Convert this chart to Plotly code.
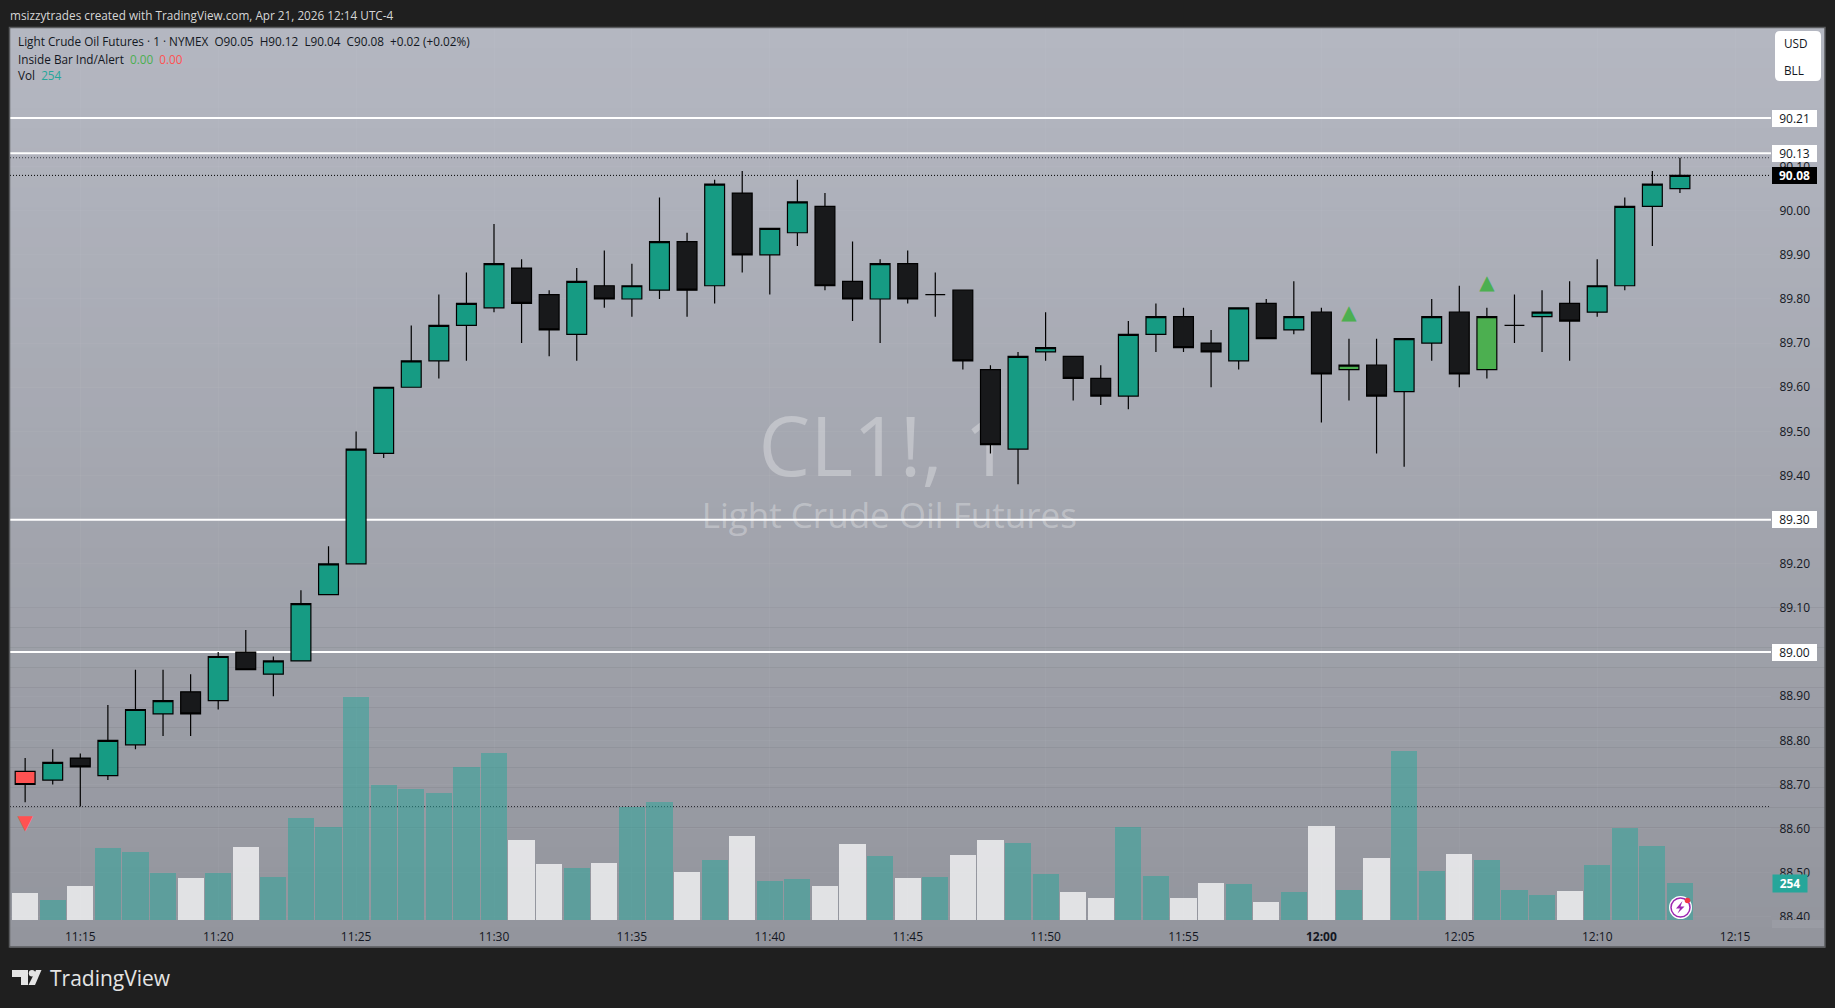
import pandas as pd
import plotly.graph_objects as go

W = 1835
H = 1008

# one minute bars, 11:13 -> 12:13
times = pd.date_range("2026-04-21 11:13", "2026-04-21 12:13", freq="1min")

opens = [88.73, 88.71, 88.76, 88.72, 88.79, 88.86, 88.91, 88.89, 89.00, 88.95, 88.98, 89.13,
         89.20, 89.45, 89.60, 89.66, 89.74, 89.78, 89.87, 89.81, 89.72, 89.83, 89.80, 89.82,
         89.93, 89.83, 90.04, 89.90, 89.95, 90.01, 89.84, 89.80, 89.88, 89.81, 89.82, 89.64,
         89.46, 89.68, 89.67, 89.62, 89.58, 89.72, 89.76, 89.70, 89.66, 89.79, 89.73, 89.77,
         89.64, 89.65, 89.59, 89.70, 89.77, 89.64, 89.74, 89.76, 89.79, 89.77, 89.83, 90.01, 90.05]
highs = [88.76, 88.78, 88.77, 88.88, 88.96, 88.96, 88.95, 89.00, 89.05, 88.99, 89.14, 89.24,
         89.50, 89.60, 89.74, 89.81, 89.86, 89.97, 89.89, 89.82, 89.87, 89.91, 89.88, 90.03,
         89.95, 90.07, 90.09, 89.96, 90.07, 90.04, 89.93, 89.89, 89.91, 89.86, 89.82, 89.65,
         89.68, 89.77, 89.67, 89.65, 89.75, 89.79, 89.78, 89.73, 89.78, 89.80, 89.84, 89.78,
         89.71, 89.71, 89.71, 89.80, 89.83, 89.78, 89.81, 89.82, 89.84, 89.89, 90.03, 90.09, 90.12]
lows = [88.66, 88.70, 88.65, 88.71, 88.78, 88.81, 88.81, 88.87, 88.96, 88.90, 88.98, 89.13,
        89.20, 89.44, 89.60, 89.62, 89.66, 89.77, 89.70, 89.67, 89.66, 89.78, 89.76, 89.80,
        89.76, 89.79, 89.86, 89.81, 89.92, 89.82, 89.75, 89.70, 89.79, 89.76, 89.64, 89.45,
        89.38, 89.66, 89.57, 89.56, 89.55, 89.68, 89.68, 89.60, 89.64, 89.71, 89.72, 89.52,
        89.57, 89.45, 89.42, 89.66, 89.60, 89.62, 89.70, 89.68, 89.66, 89.76, 89.82, 89.92, 90.04]
closes = [88.70, 88.75, 88.74, 88.80, 88.87, 88.89, 88.86, 88.99, 88.96, 88.98, 89.11, 89.20,
          89.46, 89.60, 89.66, 89.74, 89.79, 89.88, 89.79, 89.73, 89.84, 89.80, 89.83, 89.93,
          89.82, 90.06, 89.90, 89.96, 90.02, 89.83, 89.80, 89.88, 89.80, 89.81, 89.66, 89.47,
          89.67, 89.69, 89.62, 89.58, 89.72, 89.76, 89.69, 89.68, 89.78, 89.71, 89.76, 89.63,
          89.65, 89.58, 89.71, 89.76, 89.63, 89.76, 89.74, 89.77, 89.75, 89.83, 90.01, 90.06, 90.08]
volumes = [185, 137, 233, 494, 467, 323, 288, 323, 501, 295, 700, 638, 1531, 927, 899, 872,
           1050, 1146, 549, 384, 357, 391, 776, 810, 330, 412, 577, 268, 281, 233, 522, 439,
           288, 295, 446, 549, 529, 316, 192, 151, 638, 302, 151, 254, 247, 124, 192, 645,
           206, 426, 1160, 336, 453, 412, 206, 172, 199, 378, 632, 508, 254]

# inside bar indicator
red_bars = ["2026-04-21 11:13"]
red_marks = [88.61]
green_bars = ["2026-04-21 12:01", "2026-04-21 12:06"]
green_marks = [89.765, 89.835]

price_ticks = [88.4, 88.5, 88.6, 88.7, 88.8, 88.9, 89.0, 89.1, 89.2, 89.3, 89.4, 89.5,
               89.6, 89.7, 89.8, 89.9, 90.0, 90.1]
white_levels = [90.21, 90.13, 89.30, 89.00]
dotted_levels = [90.12, 90.08, 88.65]
last_close = 90.08
last_volume = 254

time_ticks = pd.date_range("2026-04-21 11:15", "2026-04-21 12:15", freq="5min")
time_labels = ["<b>12:00</b>" if t.strftime("%H:%M") == "12:00" else t.strftime("%H:%M") for t in time_ticks]

TEAL = "#169b83"
BLACK = "#18191b"
RED = "#ff5252"
GREEN = "#4caf50"
FONT = "Open Sans"


def px(x):
    return x / W


def py(y):
    return 1 - y / H


# pane pixel box
LEFT, RIGHT, TOP, BOTTOM = 10, 1771, 28, 920
PX_PER_MIN = 27.58
PX_PER_PRICE = 441.4
x_start = pd.Timestamp("2026-04-21 11:15") + pd.Timedelta(minutes=(LEFT - 80.3) / PX_PER_MIN)
x_end = pd.Timestamp("2026-04-21 11:15") + pd.Timedelta(minutes=(RIGHT - 80.3) / PX_PER_MIN)
y_top = 90 + (210.7 - TOP) / PX_PER_PRICE
y_bottom = 90 - (BOTTOM - 210.7) / PX_PER_PRICE


def candles(idx, up, down):
    return go.Candlestick(
        x=[times[i] for i in idx],
        open=[opens[i] for i in idx],
        high=[highs[i] for i in idx],
        low=[lows[i] for i in idx],
        close=[closes[i] for i in idx],
        yaxis="y3",
        whiskerwidth=0,
        increasing=dict(fillcolor=up, line=dict(color="#000000", width=1.2)),
        decreasing=dict(fillcolor=down, line=dict(color="#000000", width=1.2)),
        hoverinfo="skip",
        showlegend=False,
    )


fig = go.Figure()

# watermark sits in the main subplot so the candles cover it
fig.add_trace(go.Scatter(x=[pd.Timestamp("2026-04-21 11:44:10")], y=[89.445], mode="text", text=["CL1!, 1"],
                         textfont=dict(family=FONT, size=82, color="rgba(255,255,255,0.3)"),
                         hoverinfo="skip", showlegend=False))
fig.add_trace(go.Scatter(x=[pd.Timestamp("2026-04-21 11:44:20")], y=[89.30], mode="text",
                         text=["Light Crude Oil Futures"],
                         textfont=dict(family=FONT, size=35, color="rgba(255,255,255,0.3)"),
                         hoverinfo="skip", showlegend=False))

vol_colors = ["rgba(38,166,154,0.5)" if c >= o else "rgba(255,255,255,0.72)" for o, c in zip(opens, closes)]
fig.add_trace(go.Bar(x=times, y=volumes, yaxis="y2", marker=dict(color=vol_colors, line=dict(width=0)),
                     width=57000, hoverinfo="skip", showlegend=False))

special = [0, 48, 53]
fig.add_trace(candles([i for i in range(len(times)) if i not in special], TEAL, BLACK))
fig.add_trace(candles([0], RED, RED))
fig.add_trace(candles([48, 53], GREEN, GREEN))

# glyphs because plotly's triangle markers come out too flat
fig.add_trace(go.Scatter(x=green_bars, y=green_marks, yaxis="y3", mode="text", text=["▲"] * len(green_bars),
                         textfont=dict(family="DejaVu Sans", size=20, color=GREEN),
                         hoverinfo="skip", showlegend=False))
fig.add_trace(go.Scatter(x=red_bars, y=red_marks, yaxis="y3", mode="text", text=["▼"] * len(red_bars),
                         textfont=dict(family="DejaVu Sans", size=20, color=RED),
                         hoverinfo="skip", showlegend=False))

shapes = []
# background gradient
n_strips = 46
for i in range(n_strips):
    f = i / (n_strips - 1)
    r = round(180 + (147 - 180) * f)
    g = round(183 + (149 - 183) * f)
    b = round(193 + (157 - 193) * f)
    y0 = TOP + (947 - TOP) * i / n_strips
    y1 = TOP + (947 - TOP) * (i + 1) / n_strips
    shapes.append(dict(type="rect", xref="paper", yref="paper", layer="below", x0=px(10), x1=px(1825),
                       y0=py(y0), y1=py(y1 + 0.5), fillcolor=f"rgb({r},{g},{b})", line=dict(width=0)))

for level in white_levels:
    shapes.append(dict(type="line", xref="paper", yref="y", layer="below", x0=px(LEFT), x1=px(RIGHT),
                       y0=level, y1=level, line=dict(color="#ffffff", width=2)))
for level, col in zip(dotted_levels, ["#3a3d45", "#000000", "#22242a"]):
    shapes.append(dict(type="line", xref="paper", yref="y", layer="below", x0=px(LEFT), x1=px(RIGHT),
                       y0=level, y1=level, line=dict(color=col, width=1, dash="1px,2px")))

# frame and the bit that clips the lowest price label
shapes.append(dict(type="rect", xref="paper", yref="paper", layer="above", x0=px(1772), x1=px(1824),
                   y0=py(920), y1=py(928), fillcolor="#9a9ca4", line=dict(width=0)))
shapes.append(dict(type="rect", xref="paper", yref="paper", layer="above", x0=px(9.5), x1=px(1825),
                   y0=py(27.5), y1=py(947), line=dict(color="#5a5b5e", width=1.5)))

# USD / BLL box
x0, x1, y0, y1, rad = px(1775), px(1821), py(31), py(81), 5
rx, ry = rad / W, rad / H
shapes.append(dict(type="path", xref="paper", yref="paper", layer="above", fillcolor="#ffffff",
                   line=dict(width=0),
                   path=f"M {x0+rx},{y0} L {x1-rx},{y0} Q {x1},{y0} {x1},{y0-ry} L {x1},{y1+ry} Q {x1},{y1} {x1-rx},{y1} "
                        f"L {x0+rx},{y1} Q {x0},{y1} {x0},{y1+ry} L {x0},{y0-ry} Q {x0},{y0} {x0+rx},{y0} Z"))


def circle(cx, cy, r, fill, line=None, width=0):
    return dict(type="circle", xref="paper", yref="paper", layer="above", x0=px(cx - r), x1=px(cx + r),
                y0=py(cy - r), y1=py(cy + r), fillcolor=fill, line=dict(color=line, width=width))


def poly(points, fill):
    path = "M " + " L ".join(f"{px(a)},{py(b)}" for a, b in points) + " Z"
    return dict(type="path", xref="paper", yref="paper", layer="above", path=path, fillcolor=fill,
                line=dict(width=0))


# lightning badge
shapes.append(circle(1680.5, 907.5, 11.5, "#ffffff"))
shapes.append(circle(1680.5, 907.5, 9.5, "#ffffff", "#9c27b0", 1.5))
shapes.append(poly([(1682.5, 901), (1676, 908.5), (1680, 908.5), (1677.5, 913.5), (1684.5, 906.5), (1680.5, 906.5)], "#9c27b0"))
shapes.append(circle(1687.5, 900.5, 2.8, "#f23645"))

# TradingView mark
LOGO = "#e4e4e4"
shapes.append(poly([(12, 970), (28, 970), (28, 985), (21, 985), (21, 977), (12, 977)], LOGO))
shapes.append(circle(32, 973.2, 3.2, LOGO))
shapes.append(poly([(36, 970), (41.5, 970), (35, 985), (28.5, 985)], LOGO))

annotations = []


def label(x, y, text, size=11.75, color="#131722", anchor="left", **kw):
    annotations.append(dict(xref="paper", yref="paper", x=px(x), y=py(y), text=text, showarrow=False,
                            xanchor=anchor, yanchor="middle", align="left",
                            font=dict(family=FONT, size=size, color=color), **kw))


def price_tag(y_value, text, bg, color, bold=False, width=43):
    annotations.append(dict(xref="paper", yref="y", x=px(1772), y=y_value, text=f"<b>{text}</b>" if bold else text,
                            showarrow=False, xanchor="left", yanchor="middle", align="center", width=width, height=15,
                            bgcolor=bg, borderpad=1, borderwidth=0,
                            font=dict(family=FONT, size=12, color=color)))


label(8, 15, "msizzytrades created with TradingView.com, Apr 21, 2026 12:14 UTC-4", color="#d6d6d6")
label(16, 41.5, "Light Crude Oil Futures · 1 · NYMEX  O90.05  H90.12  L90.04  C90.08  +0.02 (+0.02%)")
label(16, 58.5, f'Inside Bar Ind/Alert  <span style="color:{GREEN}">0.00</span>  <span style="color:{RED}">0.00</span>')
label(16, 75.5, f'Vol  <span style="color:#26a69a">{last_volume}</span>')
label(1782, 43.5, "USD")
label(1782, 70, "BLL")
label(48, 977.5, "TradingView", size=21, color=LOGO)

for level in white_levels:
    price_tag(level, f"{level:.2f}", "#ffffff", "#131722")
price_tag(last_close, f"{last_close:.2f}", "#000000", "#ffffff", bold=True)
annotations.append(dict(xref="paper", yref="paper", x=px(1772), y=py(883.5), text=f"<b>{last_volume}</b>",
                        showarrow=False, xanchor="left", yanchor="middle", align="center", width=32, height=15,
                        bgcolor="#26a69a", borderpad=1, font=dict(family=FONT, size=12, color="#ffffff")))

GRID = "rgba(255,255,255,0.035)"
fig.update_layout(
    width=W,
    height=H,
    margin=dict(l=0, r=0, t=0, b=0),
    paper_bgcolor="#1f1f1f",
    plot_bgcolor="rgba(0,0,0,0)",
    showlegend=False,
    bargap=0,
    barmode="overlay",
    boxmode="overlay",
    boxgap=0.1,
    boxgroupgap=0.2,
    hovermode=False,
    dragmode=False,
    shapes=shapes,
    annotations=annotations,
    xaxis=dict(
        type="date",
        domain=[px(LEFT), px(RIGHT)],
        range=[x_start, x_end],
        rangeslider=dict(visible=False),
        automargin=False,
        tickmode="array",
        tickvals=time_ticks,
        ticktext=time_labels,
        ticks="outside",
        ticklen=6,
        tickcolor="rgba(0,0,0,0)",
        tickfont=dict(family=FONT, size=12, color="#131722"),
        showgrid=True,
        gridcolor=GRID,
        showline=False,
        zeroline=False,
    ),
    yaxis=dict(
        domain=[py(BOTTOM), py(TOP)],
        range=[y_bottom, y_top],
        side="right",
        automargin=False,
        tickmode="array",
        tickvals=price_ticks,
        ticktext=[f"{t:.2f}" for t in price_ticks],
        ticks="outside",
        ticklen=5,
        tickcolor="rgba(0,0,0,0)",
        tickfont=dict(family=FONT, size=12, color="#131722"),
        showgrid=True,
        gridcolor=GRID,
        showline=False,
        zeroline=False,
    ),
    # 892 pane pixels at the 6.865 volume per pixel of the last bar
    yaxis2=dict(overlaying="y", range=[0, 6124], visible=False, automargin=False),
    yaxis3=dict(overlaying="y", range=[y_bottom, y_top], visible=False, automargin=False),
)

# no stray page margin or gap under the plot div
page_fix = """
var d = document.documentElement, b = document.body;
b.style.margin = '0';
d.style.height = b.style.height = '1008px';
d.style.overflow = b.style.overflow = 'hidden';
"""
fig.write_html("out.html", config=dict(displayModeBar=False), post_script=page_fix)
